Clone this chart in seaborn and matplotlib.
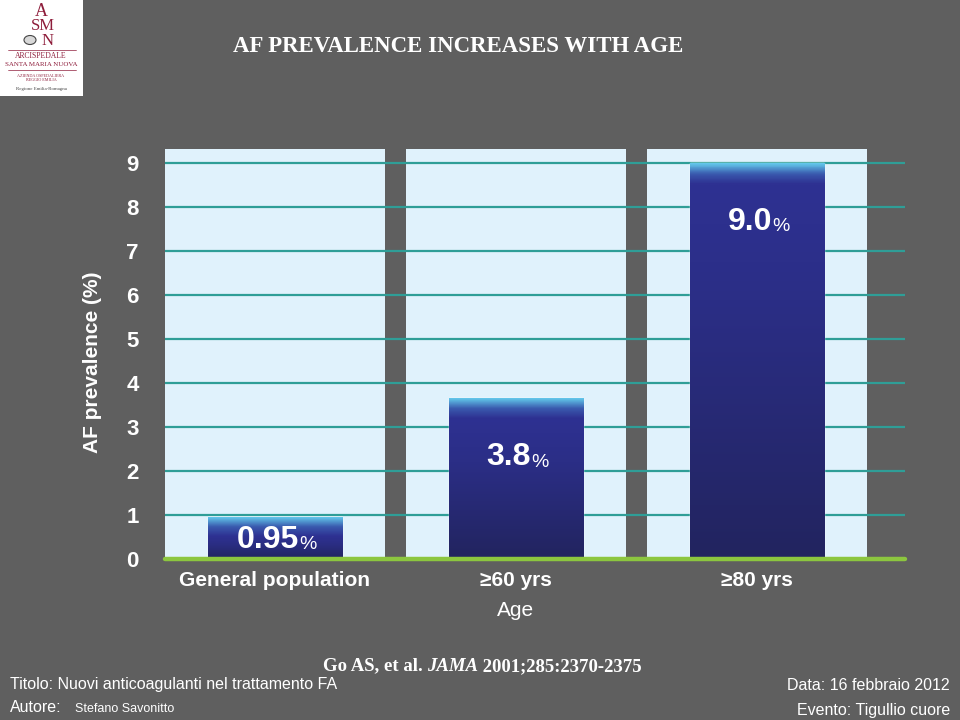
import numpy as np
import pandas as pd
import matplotlib
matplotlib.use("Agg")
import matplotlib.pyplot as plt
from matplotlib.colors import LinearSegmentedColormap
from matplotlib.patches import Rectangle, Circle
from matplotlib.lines import Line2D
import seaborn as sns

# data
categories = ["General population", "\u226560 yrs", "\u226580 yrs"]
prevalence = [0.95, 3.65, 9.0]          # bar heights as drawn
value_labels = ["0.95", "3.8", "9.0"]    # numbers printed on the bars
y_ticks = list(range(0, 10))

BG = "#5f5f5f"
PANEL = "#e0f2fc"
GRID = "#2f9e97"
BASE = "#8cc63f"
RED = "#8e1d3b"

sns.set_theme(style="white")
plt.rcParams["font.family"] = ["Liberation Sans", "DejaVu Sans"]

fig = plt.figure(figsize=(9.6, 7.2), dpi=100, facecolor=BG)


def fx(px):
    return px / 960


def fy(py):
    return 1 - py / 720


ax = fig.add_axes([fx(165), fy(559), (905 - 165) / 960, (559 - 149) / 720])
ax.set_facecolor(BG)

df = pd.DataFrame({"group": categories, "af": prevalence})

sns.barplot(data=df, x="group", y="af", width=0.556, color="#2e3192",
            saturation=1, ax=ax, zorder=2)
bars = list(ax.containers[0])

# light panels behind each category
for i in range(len(categories)):
    ax.axvspan(i - 0.458, i + 0.458, color=PANEL, zorder=0.2, lw=0)

# vertical gradient on every bar
grad_cmap = LinearSegmentedColormap.from_list(
    "bar", [(0.0, "#22245f"), (0.55, "#2b2e86"), (0.80, "#2e3192"),
            (0.90, "#3a5aae"), (1.0, "#62c6ea")])
for patch, h in zip(bars, prevalence):
    x0 = patch.get_x()
    w = patch.get_width()
    band = min(0.45 / h, 0.45)
    rows = np.linspace(0, 1, 300)
    vals = np.where(rows > 1 - band,
                    0.80 + 0.20 * (rows - (1 - band)) / band,
                    0.80 * rows / (1 - band))
    vals = np.clip(vals, 0, 1)
    img = ax.imshow(vals[:, None], cmap=grad_cmap, vmin=0, vmax=1,
                    origin="lower", aspect="auto",
                    extent=[x0, x0 + w, 0, h], zorder=3)
    img.set_clip_path(patch)

# value labels with a smaller percent sign
for i, (h, lab) in enumerate(zip(prevalence, value_labels)):
    ypos = max(h - 1.34, h / 2 - 0.04)
    t = ax.text(i - 0.03, ypos, lab, ha="center", va="center",
                fontsize=23, fontweight="bold", color="white", zorder=5)
    ax.annotate("%", xy=(1, 0.19), xycoords=t, ha="left", va="baseline",
                fontsize=14, color="white", zorder=5, annotation_clip=False)

ax.set_xlim(-0.456, 2.614)
ax.set_ylim(0, 9.32)
ax.set_yticks(y_ticks)
ax.set_yticklabels([str(v) for v in y_ticks])
ax.yaxis.grid(True, color=GRID, lw=1.6)
ax.xaxis.grid(False)
ax.set_axisbelow(True)
for s in ax.spines.values():
    s.set_visible(False)
ax.axhline(0, color=BASE, lw=3.2, zorder=4, clip_on=False)

ax.tick_params(axis="y", length=0, pad=19, labelsize=16, labelcolor="white")
ax.tick_params(axis="x", length=0, pad=9, labelsize=15, labelcolor="white")
for lbl in ax.get_xticklabels() + ax.get_yticklabels():
    lbl.set_fontweight("bold")

ax.set_xlabel("Age", fontsize=15, color="white", va="center")
ax.xaxis.set_label_coords((516 - 165) / 740, (559 - 610) / 410)
ax.set_ylabel("AF prevalence (%)", fontsize=15, fontweight="bold",
              color="white", va="center")
ax.yaxis.set_label_coords((93 - 165) / 740, (559 - 362) / 410)

# title
fig.text(fx(233), fy(46), "AF PREVALENCE INCREASES WITH AGE", ha="left",
         va="center", family="Liberation Serif", fontweight="bold",
         fontsize=16.5, color="white")

# hospital logo block
fig.add_artist(Rectangle((0, fy(96)), fx(83), 96 / 720, transform=fig.transFigure,
                         facecolor="white", edgecolor="none"))
serif = dict(family="Liberation Serif", color=RED, ha="center", va="center")
fig.text(fx(41), fy(11), "A", fontsize=13, **serif)
fig.text(fx(43), fy(26), "SM", fontsize=12, **serif)
fig.text(fx(48), fy(41), "N", fontsize=12, **serif)
fig.add_artist(Circle((fx(30), fy(40)), 6 / 960, transform=fig.transFigure,
                      facecolor="#d8d8d8", edgecolor="#444444", lw=0.8))
for yy in (50, 70):
    fig.add_artist(Line2D([fx(8), fx(76)], [fy(yy), fy(yy)],
                          transform=fig.transFigure, color=RED, lw=0.5))
fig.text(fx(41), fy(56), "ARCISPEDALE", fontsize=5.5, **serif)
fig.text(fx(41), fy(64), "SANTA MARIA NUOVA", fontsize=5, **serif)
fig.text(fx(41), fy(76), "AZIENDA OSPEDALIERA", fontsize=3, **serif)
fig.text(fx(41), fy(80), "REGGIO EMILIA", fontsize=3, **serif)
fig.text(fx(41), fy(89), "Regione Emilia-Romagna", fontsize=3.5,
         family="Liberation Serif", color="#444444", ha="center", va="center")

# reference line
ref_kw = dict(family="Liberation Serif", fontweight="bold", fontsize=13.5,
              color="white", va="baseline")
r1 = fig.text(fx(323), fy(670), "Go AS, et al. ", ha="left", **ref_kw)
r2 = ax.annotate("JAMA", xy=(1, 0.2), xycoords=r1, ha="left", style="italic",
                 annotation_clip=False, **ref_kw)
ax.annotate(" 2001;285:2370-2375", xy=(1, 0.2), xycoords=r2, ha="left",
            annotation_clip=False, **ref_kw)

# footer
foot = dict(color="white", va="center", fontsize=11.5)
fig.text(fx(10), fy(685), "Titolo: Nuovi anticoagulanti nel trattamento FA",
         ha="left", **foot)
fig.text(fx(950), fy(685), "Data: 16 febbraio 2012", ha="right", **foot)
fig.text(fx(10), fy(708), "Autore:", ha="left", **foot)
fig.text(fx(75), fy(709), "Stefano Savonitto", ha="left", color="white",
         va="center", fontsize=9)
fig.text(fx(950), fy(711), "Evento: Tigullio cuore", ha="right", **foot)

fig.savefig("out.png", dpi=100, facecolor=BG)
